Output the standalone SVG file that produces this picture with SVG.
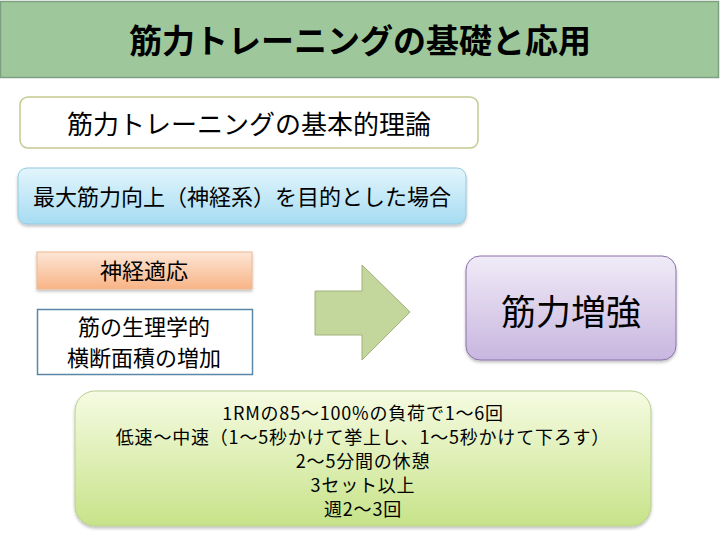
<svg xmlns="http://www.w3.org/2000/svg" width="720" height="540" viewBox="0 0 720 540">
<defs>
<linearGradient id="gBlue" x1="0" y1="0" x2="0" y2="1"><stop offset="0" stop-color="#e3f5fc"/><stop offset="1" stop-color="#a6dcf2"/></linearGradient>
<linearGradient id="gOrange" x1="0" y1="0" x2="0" y2="1"><stop offset="0" stop-color="#fde6d6"/><stop offset="1" stop-color="#f8b486"/></linearGradient>
<linearGradient id="gPurple" x1="0" y1="0" x2="0" y2="1"><stop offset="0" stop-color="#f0ebf7"/><stop offset="1" stop-color="#c8b6df"/></linearGradient>
<linearGradient id="gGreen" x1="0" y1="0" x2="0" y2="1"><stop offset="0" stop-color="#f6fbe2"/><stop offset="1" stop-color="#c7e389"/></linearGradient>
<filter id="sh" x="-5%" y="-5%" width="110%" height="120%"><feDropShadow dx="0" dy="2" stdDeviation="1.5" flood-color="#000" flood-opacity="0.25"/></filter>
</defs>
<style>
text{font-family:"Noto Sans CJK JP","Noto Sans",sans-serif;fill:#000;text-anchor:middle}
.title{font-size:33px;font-weight:bold}
.p{font-size:18px;letter-spacing:0.8px}
</style>
<rect width="720" height="540" fill="#fff"/>
<g id="title">
<rect x="0.5" y="1.5" width="718" height="76" fill="#9ec89b" stroke="#7f9f82" stroke-width="1.5"/>
<text class="title" x="360" y="53">筋力トレーニングの基礎と応用</text>
</g>
<g id="basic-theory">
<rect x="20" y="97" width="458" height="51" rx="8" fill="#fff" stroke="#c3c98f" stroke-width="1.5"/>
<text x="249" y="134" font-size="26">筋力トレーニングの基本的理論</text>
</g>
<g id="max-strength">
<rect x="18" y="168" width="448" height="56" rx="9" fill="url(#gBlue)" stroke="#93c9de" stroke-width="1" filter="url(#sh)"/>
<text x="242" y="205" font-size="22">最大筋力向上（神経系）を目的とした場合</text>
</g>
<g id="neural">
<rect x="37" y="252" width="215" height="37" fill="url(#gOrange)" stroke="#f0b890" stroke-width="1" filter="url(#sh)"/>
<text x="144" y="279" font-size="22">神経適応</text>
</g>
<g id="csa">
<rect x="37.5" y="309.5" width="215" height="65" fill="#fff" stroke="#5a87a8" stroke-width="1.5"/>
<text x="144" y="335" font-size="22">筋の生理学的</text>
<text x="144" y="366" font-size="22">横断面積の増加</text>
</g>
<g id="connectors">
<path d="M315,291 L362,291 L362,265 L410,312 L362,360 L362,335 L315,335 Z" fill="#c3d69b" stroke="#a0b07c" stroke-width="1"/>
</g>
<g id="strength">
<rect x="466" y="256" width="210" height="104" rx="14" fill="url(#gPurple)" stroke="#8a72aa" stroke-width="1" filter="url(#sh)"/>
<text x="571" y="325" font-size="35">筋力増強</text>
</g>
<g id="protocol">
<rect x="75" y="391" width="576" height="135" rx="20" fill="url(#gGreen)" stroke="#b8cf8e" stroke-width="1" filter="url(#sh)"/>
<text class="p" x="363" y="420">1RMの85～100%の負荷で1～6回</text>
<text class="p" x="363" y="444">低速～中速（1～5秒かけて挙上し、1～5秒かけて下ろす）</text>
<text class="p" x="363" y="468">2～5分間の休憩</text>
<text class="p" x="363" y="492">3セット以上</text>
<text class="p" x="363" y="516">週2～3回</text>
</g>
</svg>
